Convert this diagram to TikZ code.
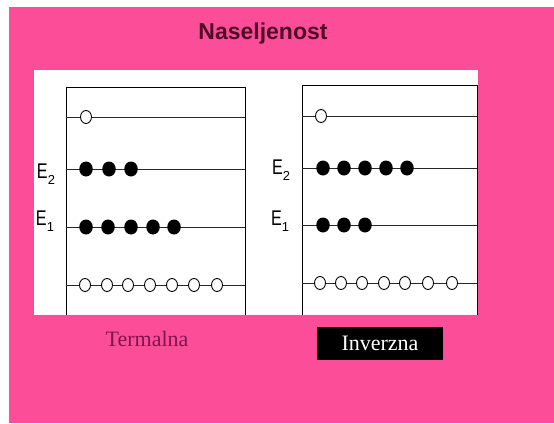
\documentclass[tikz,border=0pt]{standalone}
\usepackage{fontspec}
\setmainfont{Liberation Serif}
\newfontfamily\sansf{Liberation Sans}
\usetikzlibrary{shapes.geometric}
\definecolor{bgpink}{RGB}{252,78,152}
\definecolor{titlecol}{RGB}{80,10,40}
\definecolor{termcol}{RGB}{130,20,80}
\newcommand{\elev}[1]{\scalebox{0.95}[1.25]{E}\raisebox{-6pt}{\fontsize{13}{13}\selectfont #1}}
\begin{document}
\begin{tikzpicture}[x=1pt,y=-1pt,
  full/.style={ellipse,fill=black,minimum width=13.5pt,minimum height=15pt,inner sep=0pt},
  empty/.style={ellipse,draw=black,line width=0.9pt,fill=white,minimum width=11pt,minimum height=13pt,inner sep=0pt},
  level/.style={draw=black!85,line width=0.9pt},
  boxline/.style={draw=black,line width=1pt},
  elabel/.style={font=\sansf\fontsize{17}{17}\selectfont,inner sep=0pt,anchor=center}]
\useasboundingbox (0,0) rectangle (554,423);
\fill[white] (0,0) rectangle (554,423);
\fill[bgpink] (9,7) rectangle (554,423);
\fill[white] (34,70) rectangle (478,315);
\node[font=\sansf\bfseries\fontsize{23}{23}\selectfont,text=titlecol] (title) at (263,34) {Naseljenost};
% left box
\coordinate (LTL) at (66,87); \coordinate (LTR) at (245,87);
\coordinate (LBL) at (66,315); \coordinate (LBR) at (245,315);
\draw[boxline] (LBL) -- (LTL) -- (LTR) -- (LBR);
\foreach \y in {117,169,227,285}{
  \draw[level] (66,\y) -- (245,\y);
}
\node[empty] (l0) at (86,117) {};
\foreach \x [count=\i] in {86,109,131}{\node[full] (lb\i) at (\x,169) {};}
\foreach \x [count=\i] in {86,108,131,153,174}{\node[full] (lc\i) at (\x,227) {};}
\foreach \x [count=\i] in {85,107,128,150,172,194,217}{\node[empty] (ld\i) at (\x,285) {};}
\node[elabel] (lE2) at (46,174) {\elev{2}};
\node[elabel] (lE1) at (45,221) {\elev{1}};
% right box
\coordinate (RTL) at (302,85); \coordinate (RTR) at (477,85);
\coordinate (RBL) at (302,315); \coordinate (RBR) at (477,315);
\draw[boxline] (RBL) -- (RTL) -- (RTR) -- (RBR);
\foreach \y in {116,168,225,283}{
  \draw[level] (302,\y) -- (477,\y);
}
\node[empty] (r0) at (321,116) {};
\foreach \x [count=\i] in {323,344,365,386,407}{\node[full] (rb\i) at (\x,168) {};}
\foreach \x [count=\i] in {323,344,365}{\node[full] (rc\i) at (\x,225) {};}
\foreach \x [count=\i] in {320,341,362,384,405,428,452}{\node[empty] (rd\i) at (\x,283) {};}
\node[elabel] (rE2) at (281,170) {\elev{2}};
\node[elabel] (rE1) at (280,221) {\elev{1}};
% captions
\node[font=\fontsize{22}{22}\selectfont,text=termcol] (term) at (147,339) {Termalna};
\node[fill=black,minimum width=126pt,minimum height=33pt,inner sep=0pt,text=white,font=\fontsize{22}{22}\selectfont] (inv) at (380,343) {Inverzna};
\end{tikzpicture}
\end{document}
